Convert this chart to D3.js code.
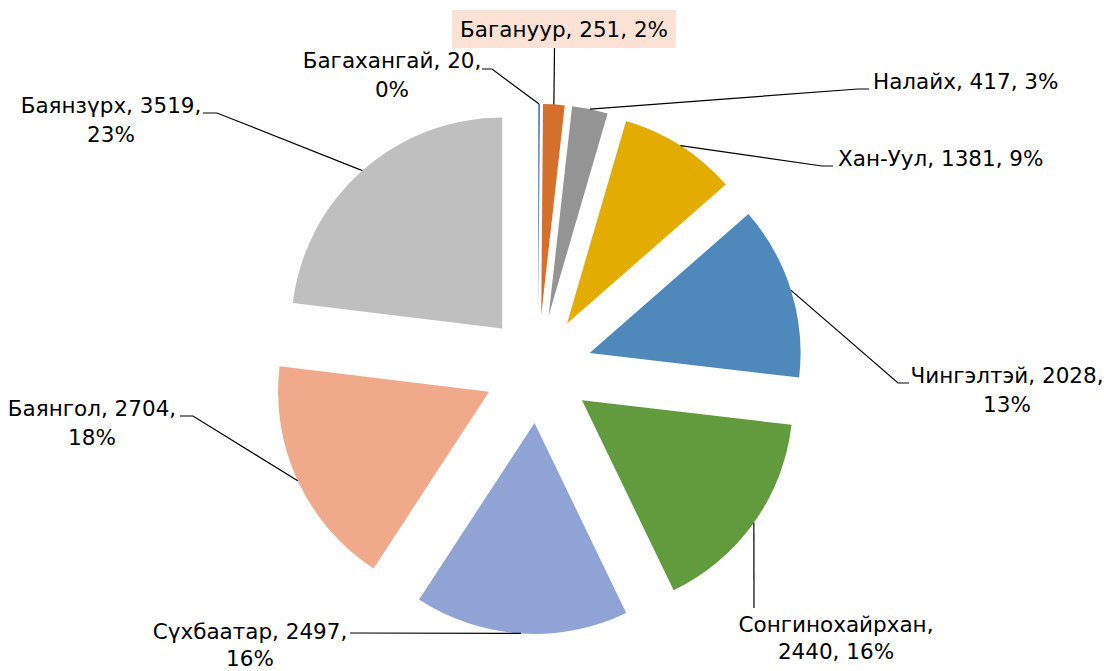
<!DOCTYPE html>
<html>
<head>
<meta charset="utf-8">
<script src="https://cdn.jsdelivr.net/npm/d3@7"></script>
<style>
  body { margin: 0; background: #fff; }
  text { font-family: "DejaVu Sans", sans-serif; font-size: 21.5px; fill: #000; }
</style>
</head>
<body>
<script>
const width = 1104,
      height = 671;

// data
const districts = ["Багахангай", "Багануур", "Налайх", "Хан-Уул", "Чингэлтэй",
                   "Сонгинохайрхан", "Сүхбаатар", "Баянгол", "Баянзүрх"];
const counts = [20, 251, 417, 1381, 2028, 2440, 2497, 2704, 3519];
const colors = ["#4472c4", "#d4702c", "#949494", "#e2ac00", "#4f89bc",
                "#629a3e", "#8fa3d4", "#f0a98a", "#bfbfbf"];

// label placement (hand-placed like the original, in px)
// [textX, baseline, anchor, break, elbowX, elbowY, endX]
const labelLayout = [
  [392, 68, "middle", "pct", 492, 69, 482],
  [564, 37, "middle", "none", 554.5, 48, 554.5],
  [873, 89, "start", "none", 858, 89, 869],
  [838, 166, "start", "none", 822, 166, 833],
  [1007, 383, "middle", "pct", 898, 383, 909],
  [836, 632, "middle", "name", 754, 608, 754],
  [250, 639, "middle", "pct", 350, 633, 350],
  [92, 416, "middle", "pct", 193, 416, 180],
  [111, 113, "middle", "pct", 217, 113, 203]
];

const cx = 538, cy = 369,
      radius = 211,
      explode = 54,
      lineGap = 29;

const data = districts.map((name, i) => ({ name, value: counts[i], color: colors[i] }));
const total = d3.sum(counts);

const pie = d3.pie()
      .sort(null)
      .value((d) => d.value);

const arc = d3.arc()
      .innerRadius(0)
      .outerRadius(radius);

const svg = d3.select("body")
  .append("svg")
  .attr("width", width)
  .attr("height", height);

const g = svg.append("g")
  .attr("transform", "translate(" + cx + "," + cy + ")");

const arcs = pie(data);

function midAngle(d) {
  return d.startAngle + (d.endAngle - d.startAngle) / 2;
}
function offset(d, r) {
  const a = midAngle(d);
  return [Math.sin(a) * r, -Math.cos(a) * r];
}

g.selectAll("path.slice")
  .data(arcs)
  .enter()
  .append("path")
  .attr("class", "slice")
  .attr("transform", (d) => "translate(" + offset(d, explode) + ")")
  .attr("d", arc)
  .style("fill", (d) => d.data.color);

/* ------- leader lines ------- */
svg.append("g")
  .selectAll("polyline")
  .data(arcs)
  .enter()
  .append("polyline")
  .attr("points", (d, i) => {
    const o = offset(d, explode + radius);
    const L = labelLayout[i];
    return [[cx + o[0], cy + o[1]], [L[4], L[5]], [L[6], L[5]]];
  })
  .style("fill", "none")
  .style("stroke", "#000")
  .style("stroke-width", 1.2);

/* ------- labels ------- */
const labels = svg.append("g");

arcs.forEach((d, i) => {
  const L = labelLayout[i];
  const pct = Math.round(d.data.value / total * 100) + "%";
  let lines;
  if (L[3] === "pct") lines = [d.data.name + ", " + d.data.value + ",", pct];
  else if (L[3] === "name") lines = [d.data.name + ",", d.data.value + ", " + pct];
  else lines = [d.data.name + ", " + d.data.value + ", " + pct];

  const t = labels.append("text")
    .attr("x", L[0])
    .attr("y", L[1])
    .attr("text-anchor", L[2]);

  lines.forEach((s, k) => {
    t.append("tspan")
      .attr("x", L[0])
      .attr("y", L[1] + k * (L[1] > 600 ? 27 : lineGap))
      .text(s);
  });

  // highlighted label box for Багануур
  if (d.data.name === "Багануур") {
    const bb = t.node().getBBox();
    labels.insert("rect", "text")
      .attr("x", bb.x - 8)
      .attr("y", 10)
      .attr("width", bb.width + 16)
      .attr("height", 38)
      .style("fill", "#fbe2d5");
  }
});
</script>
</body>
</html>
